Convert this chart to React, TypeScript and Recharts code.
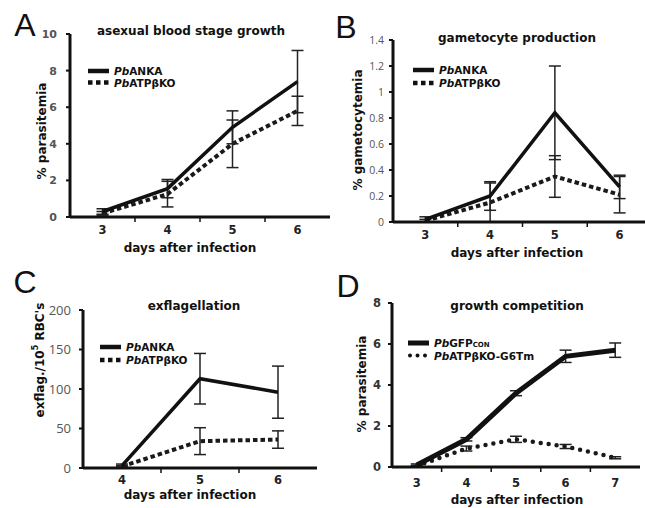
import React from 'react';
import { LineChart, Line, XAxis, YAxis, ErrorBar } from 'recharts';

// ---------- Panel A : asexual blood stage growth ----------
const daysA = [3, 4, 5, 6];
const ankaA = [0.3, 1.55, 4.9, 7.4];
const ankaAErr = [0.15, 0.5, 0.9, 1.7];
const koA = [0.2, 1.25, 4.0, 5.8];
const koAErr = [0.1, 0.7, 1.3, 0.8];
const yTicksA = [0, 2, 4, 6, 8, 10];

// ---------- Panel B : gametocyte production ----------
const daysB = [3, 4, 5, 6];
const ankaB = [0.02, 0.2, 0.84, 0.27];
const ankaBErr = [0.02, 0.11, 0.36, 0.09];
const koB = [0.01, 0.15, 0.35, 0.21];
const koBErr = [0.01, 0.15, 0.16, 0.14];
const yTicksB = [0, 0.2, 0.4, 0.6, 0.8, 1, 1.2, 1.4];

// ---------- Panel C : exflagellation ----------
const daysC = [4, 5, 6];
const ankaC = [3, 113, 96];
const ankaCErr = [2, 32, 33];
const koC = [2, 34, 36];
const koCErr = [1, 17, 11];
const yTicksC = [0, 50, 100, 150, 200];

// ---------- Panel D : growth competition ----------
const daysD = [3, 4, 5, 6, 7];
const gfpD = [0.1, 1.35, 3.6, 5.4, 5.7];
const gfpDErr = [0.05, 0.08, 0.12, 0.3, 0.35];
const koD = [0.05, 0.9, 1.35, 1.0, 0.45];
const koDErr = [0.03, 0.12, 0.15, 0.1, 0.05];
const yTicksD = [0, 2, 4, 6, 8];

const build = (days: number[], a: number[], ae: number[], b: number[], be: number[]) =>
  days.map((d, i) => ({ day: d, a: a[i], ae: ae[i], b: b[i], be: be[i] }));

const BOLD = "'DejaVu Sans', Verdana, sans-serif";
const LIGHT = "'Open Sans', 'Liberation Sans', sans-serif";

const boldTick = { fill: '#555', fontSize: 11, fontFamily: BOLD, fontWeight: 700 };

const panels = [
  {
    id: 'A', left: 0, top: 0, width: 335, height: 260,
    margin: { top: 34, right: 5, left: 0, bottom: 0 }, yWidth: 70, xHeight: 43,
    days: daysA, data: build(daysA, ankaA, ankaAErr, koA, koAErr), yDomain: [0, 10], yTicks: yTicksA,
    yTick: boldTick, tickMargin: 9, xLabelDy: 17, dash: '4.5 3', koWidth: 4, solidWidth: 3.5, round: false,
  },
  {
    id: 'B', left: 320, top: 0, width: 335, height: 265,
    margin: { top: 40, right: 3, left: 0, bottom: 0 }, yWidth: 73, xHeight: 43,
    days: daysB, data: build(daysB, ankaB, ankaBErr, koB, koBErr), yDomain: [0, 1.4], yTicks: yTicksB,
    yTick: { fill: '#555', fontSize: 10.5, fontFamily: LIGHT, fontWeight: 400 }, tickMargin: 5, xLabelDy: 17,
    dash: '4.5 3', koWidth: 4, solidWidth: 3.5, round: false,
  },
  {
    id: 'C', left: 0, top: 250, width: 320, height: 260,
    margin: { top: 60, right: 3, left: 0, bottom: 0 }, yWidth: 83, xHeight: 42,
    days: daysC, data: build(daysC, ankaC, ankaCErr, koC, koCErr), yDomain: [0, 200], yTicks: yTicksC,
    yTick: { fill: '#555', fontSize: 13, fontFamily: LIGHT, fontWeight: 400 }, tickMargin: 8, xLabelDy: 16,
    dash: '4.5 3', koWidth: 4, solidWidth: 3.5, round: false,
  },
  {
    id: 'D', left: 320, top: 250, width: 325, height: 258,
    margin: { top: 53, right: 5, left: 0, bottom: 0 }, yWidth: 72, xHeight: 41,
    days: daysD, data: build(daysD, gfpD, gfpDErr, koD, koDErr), yDomain: [0, 8], yTicks: yTicksD,
    yTick: { ...boldTick, fill: '#333', fontSize: 11.5 }, tickMargin: 7, xLabelDy: 20,
    dash: '0 8', koWidth: 4.5, solidWidth: 5, round: true,
  },
];

function Panel({ cfg }: { cfg: any }) {
  const majors: number[] = cfg.days;
  const minors = majors.slice(1).map((d, i) => (d + majors[i]) / 2);
  const ticks = [...majors, ...minors].sort((p, q) => p - q);
  const renderXTick = (props: any) => {
    const { x, y, payload } = props;
    if (majors.includes(payload.value)) {
      return (
        <text x={x} y={y + cfg.xLabelDy} textAnchor="middle" fill="#222"
          style={{ fontSize: 11.5, fontFamily: BOLD, fontWeight: 700 }}>
          {payload.value}
        </text>
      );
    }
    return <line x1={x} x2={x} y1={y} y2={y + 5} stroke="#111" strokeWidth={1.5} />;
  };
  return (
    <div style={{ position: 'absolute', left: cfg.left, top: cfg.top }}>
      <LineChart width={cfg.width} height={cfg.height} data={cfg.data} margin={cfg.margin}>
        <XAxis dataKey="day" type="number" domain={[majors[0] - 0.5, majors[majors.length - 1] + 0.5]}
          ticks={ticks} interval={0} tickSize={0} tickMargin={0} tickLine={false} tick={renderXTick}
          axisLine={{ stroke: '#111', strokeWidth: 3 }} height={cfg.xHeight} allowDataOverflow />
        <YAxis type="number" domain={cfg.yDomain} ticks={cfg.yTicks} interval={0} width={cfg.yWidth}
          tickSize={4} tickMargin={cfg.tickMargin} tickLine={{ stroke: '#111', strokeWidth: 2 }}
          axisLine={{ stroke: '#111', strokeWidth: 3 }} tick={cfg.yTick} allowDataOverflow />
        <Line type="linear" dataKey="b" stroke="#1a1a1a" strokeWidth={cfg.koWidth}
          strokeDasharray={cfg.dash} strokeLinecap={cfg.round ? 'round' : 'butt'}
          dot={false} activeDot={false} isAnimationActive={false}>
          <ErrorBar dataKey="be" width={6} strokeWidth={1.5} stroke="#222" direction="y" />
        </Line>
        <Line type="linear" dataKey="a" stroke="#111" strokeWidth={cfg.solidWidth}
          dot={false} activeDot={false} isAnimationActive={false}>
          <ErrorBar dataKey="ae" width={6} strokeWidth={1.5} stroke="#222" direction="y" />
        </Line>
      </LineChart>
    </div>
  );
}

const letters = [
  { t: 'A', x: 25, y: 25 },
  { t: 'B', x: 346, y: 27 },
  { t: 'C', x: 25, y: 282 },
  { t: 'D', x: 348, y: 286 },
];

const titles = [
  { t: 'asexual blood stage growth', x: 191, y: 31 },
  { t: 'gametocyte production', x: 517, y: 38 },
  { t: 'exflagellation', x: 194, y: 306 },
  { t: 'growth competition', x: 517, y: 306 },
];

const xLabels = [
  { x: 190, y: 248 },
  { x: 517, y: 253 },
  { x: 190, y: 495 },
  { x: 517, y: 500 },
];

const legends = [
  { x: 88, y: 71, gap: 11.5, size: 10.5, round: false, names: [['Pb', 'ANKA', ''], ['Pb', 'ATPβKO', '']] },
  { x: 413, y: 70, gap: 13, size: 10.5, round: false, names: [['Pb', 'ANKA', ''], ['Pb', 'ATPβKO', '']] },
  { x: 100, y: 347, gap: 13, size: 10.5, round: false, names: [['Pb', 'ANKA', ''], ['Pb', 'ATPβKO', '']] },
  { x: 408, y: 343, gap: 12.5, size: 10.5, round: true, names: [['Pb', 'GFP', 'CON'], ['Pb', 'ATPβKO-G6Tm', '']] },
];

function Overlay() {
  const txt = { fontFamily: BOLD, fontWeight: 700, fill: '#111' } as any;
  return (
    <svg width={645} height={508} style={{ position: 'absolute', left: 0, top: 0, pointerEvents: 'none' }}>
      {letters.map((l) => (
        <text key={l.t} x={l.x} y={l.y} textAnchor="middle" dominantBaseline="central"
          style={{ fontFamily: "'Liberation Sans', Arial, sans-serif", fontSize: 32, fill: '#111' }}>{l.t}</text>
      ))}
      {titles.map((t) => (
        <text key={t.t} x={t.x} y={t.y} textAnchor="middle" dominantBaseline="central" style={{ ...txt, fontSize: 12 }}>{t.t}</text>
      ))}
      {xLabels.map((l, i) => (
        <text key={i} x={l.x} y={l.y} textAnchor="middle" dominantBaseline="central" style={{ ...txt, fontSize: 12 }}>days after infection</text>
      ))}
      <text x={42} y={131} transform="rotate(-90 42 131)" textAnchor="middle" dominantBaseline="central" style={{ ...txt, fontSize: 12 }}>% parasitemia</text>
      <text x={358} y={130} transform="rotate(-90 358 130)" textAnchor="middle" dominantBaseline="central" style={{ ...txt, fontSize: 12 }}>% gametocytemia</text>
      <text x={40} y={360} transform="rotate(-90 40 360)" textAnchor="middle" dominantBaseline="central" style={{ ...txt, fontSize: 12 }}>
        exflag./10<tspan fontSize={8} dy={-5}>5</tspan><tspan dy={5}> RBC's</tspan>
      </text>
      <text x={362} y={384} transform="rotate(-90 362 384)" textAnchor="middle" dominantBaseline="central" style={{ ...txt, fontSize: 12 }}>% parasitemia</text>
      {legends.map((lg, li) => (
        <g key={li}>
          {lg.names.map((n, i) => {
            const yy = lg.y + i * lg.gap;
            return (
              <g key={i}>
                {i === 0 ? (
                  <line x1={lg.x} x2={lg.x + 21} y1={yy} y2={yy} stroke="#111" strokeWidth={lg.round ? 5 : 4.5} />
                ) : lg.round ? (
                  <line x1={lg.x + 2} x2={lg.x + 19} y1={yy} y2={yy} stroke="#111" strokeWidth={4} strokeDasharray="0 7.5" strokeLinecap="round" />
                ) : (
                  <line x1={lg.x} x2={lg.x + 21} y1={yy} y2={yy} stroke="#111" strokeWidth={4.5} strokeDasharray="4.5 3.5" />
                )}
                <text x={lg.x + 26} y={yy} dominantBaseline="central" style={{ ...txt, fontSize: lg.size }}>
                  <tspan fontStyle="italic">{n[0]}</tspan>{n[1]}
                  {n[2] ? <tspan fontSize={7} dy={2}>{n[2]}</tspan> : null}
                </text>
              </g>
            );
          })}
        </g>
      ))}
    </svg>
  );
}

export default function App() {
  return (
    <div style={{ position: 'fixed', left: 0, top: 0, width: 645, height: 508, overflow: 'hidden', background: '#fff' }}>
      {panels.map((p) => (
        <Panel key={p.id} cfg={p} />
      ))}
      <Overlay />
    </div>
  );
}
